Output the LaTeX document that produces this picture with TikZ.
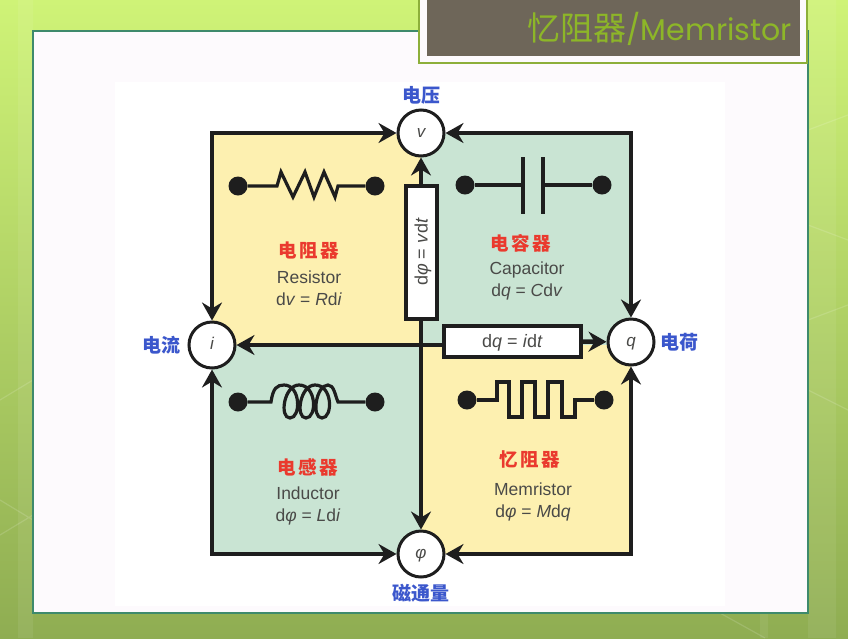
\documentclass[tikz,border=0pt]{standalone}
\usepackage{fontspec}
\setmainfont{Liberation Sans}
\newfontfamily\cjk{Noto Sans CJK SC}
\newfontfamily\cjkwide[LetterSpace=14]{Noto Sans CJK SC}
\newfontfamily\headfont{Poppins}
\usetikzlibrary{positioning,arrows.meta}
\definecolor{leaf}{HTML}{CFF377}
\definecolor{leafM}{HTML}{B4DC63}
\definecolor{leafB}{HTML}{8FAD52}
\definecolor{frame}{HTML}{3E8A6C}
\definecolor{paper}{HTML}{FDFAFD}
\definecolor{banner}{HTML}{6E6659}
\definecolor{bannerT}{HTML}{8DB628}
\definecolor{bannerB}{HTML}{8DAF3A}
\definecolor{butter}{HTML}{FDF0B0}
\definecolor{mint}{HTML}{C9E4D3}
\definecolor{ink}{HTML}{1E1E1E}
\definecolor{txt}{HTML}{4A4A48}
\definecolor{qty}{HTML}{3B57CC}
\definecolor{partred}{HTML}{EA3A2E}

\begin{document}
\begin{tikzpicture}[
    x=1pt, y=-1pt,
    every node/.style={text=txt},
    flow/.style={{Stealth[length=18pt,width=20pt,inset=6pt]}-{Stealth[length=18pt,width=20pt,inset=6pt]}, draw=ink, line width=4.5pt},
    oneway/.style={-{Stealth[length=18pt,width=20pt,inset=6pt]}, draw=ink, line width=4.5pt},
    wire/.style={draw=ink, line width=3.2pt},
    var/.style={circle, draw=ink, fill=white, line width=3pt, minimum size=46pt, inner sep=0pt,
                text height=8pt, text depth=0pt, font=\fontsize{17}{17}\selectfont\itshape},
    eqbox/.style={draw=ink, fill=white, line width=4pt, minimum height=31pt, inner sep=0pt,
                  text height=14pt, text depth=1pt, font=\fontsize{18}{18}\selectfont},
    pin/.style={circle, fill=ink, minimum size=19pt, inner sep=0pt},
    qtylabel/.style={text=qty, inner sep=0pt, font=\fontsize{19}{19}\cjk\bfseries\selectfont},
    partname/.style={text=partred, inner sep=0pt, font=\fontsize{18.5}{18.5}\cjkwide\bfseries\selectfont},
    partinfo/.style={inner sep=0pt, align=center, font=\fontsize{17.5}{22}\selectfont},
  ]

  % the slide behind the figure
  \useasboundingbox (0,0) rectangle (848,638);
  \shade[top color=leaf, middle color=leafM, bottom color=leafB] (0,0) rectangle (848,638);
  \fill[white, opacity=0.07] (18,0) rectangle (33,638) (808,0) rectangle (836,638) (760,613) rectangle (768,638);
  \draw[white, opacity=0.14, line width=1.2pt] (0,400) -- (33,380) (0,535) -- (33,515) (0,500) -- (33,520)
        (808,130) -- (848,115) (808,225) -- (848,240) (808,320) -- (848,305) (808,390) -- (848,410)
        (720,613) -- (765,638);
  \fill[paper, draw=frame, line width=1.2pt] (33,31) rectangle (808,613);
  \fill[white] (115,82) rectangle (725,606);

  % the banner
  \fill[paper, draw=bannerB, line width=1.2pt] (419,-2) rectangle (807,63);
  \fill[banner] (427,-2) rectangle (800,56);
  \node[anchor=east, inner sep=0pt, text=bannerT, font=\fontsize{30}{30}\selectfont] (head) at (792,29)
        {{\fontsize{33}{33}\cjk 忆阻器}{\headfont /Memristor}};

  % the four quadrants
  \fill[butter] (212,134) rectangle (421,345);
  \fill[mint]   (421,134) rectangle (631,345);
  \fill[mint]   (212,345) rectangle (421,554);
  \fill[butter] (421,345) rectangle (631,554);

  % the four variables
  \node[var] (v)   at (421,133) {v};
  \node[var] (i)   at (212,345) {i};
  \node[var] (q)   at (631,342) {q};
  \node[var] (phi) at (421,554) {φ};
  \node[qtylabel, above=4pt of v]   (vname)   {电压};
  \node[qtylabel, left=7pt of i]    (iname)   {电流};
  \node[qtylabel, right=5pt of q]   (qname)   {电荷};
  \node[qtylabel, below=5pt of phi] (phiname) {磁通量};

  % the two integrals
  \node[eqbox, minimum width=133pt, rotate=90] (vbox) at (421,252) {d\textit{φ} = \textit{v}d\textit{t}};
  \node[eqbox, minimum width=137pt]            (hbox) at (512.5,341) {d\textit{q} = \textit{i}d\textit{t}};

  % the outer ring and the arrows in the middle
  \draw[flow] (v) -| (i);
  \draw[flow] (v) -| (q);
  \draw[flow] (phi) -| (i);
  \draw[flow] (phi) -| (q);
  \draw[oneway] (vbox) -- (v);
  \draw[oneway] (vbox) -- (phi);
  \draw[oneway] (hbox.west |- i) -- (i);
  \draw[oneway] (hbox) -- (q);

  % resistor
  \node[pin] (ra) at (238,186) {};
  \node[pin] (rb) at (375,186) {};
  \draw[wire] (ra) -- (277,186) -- (281,172) -- (293,197) -- (305,172) -- (314,197) -- (324,172) -- (335,197) -- (338,186) -- (rb);
  \node[partname] (rname) at (309,251) {电阻器};
  \node[partinfo, below=11pt of rname] (rinfo) {Resistor\\d\textit{v} = \textit{R}d\textit{i}};

  % capacitor
  \node[pin] (ca) at (465,185) {};
  \node[pin] (cb) at (602,185) {};
  \coordinate (cl) at (523,185);
  \coordinate (cr) at (543,185);
  \draw[wire] (ca) -- (cl) (cr) -- (cb);
  \draw[wire] (523,157) -- (523,214) (543,157) -- (543,214);
  \node[partname] (cname) at (521,243) {电容器};
  \node[partinfo, below=9pt of cname, xshift=6pt] (cinfo) {Capacitor\\d\textit{q} = \textit{C}d\textit{v}};

  % inductor
  \node[pin] (la) at (238,402) {};
  \node[pin] (lb) at (375,402) {};
  \draw[wire] (la) -- (271,402) .. controls (273,388) and (277,385) .. (284,385)
        .. controls (301,385) and (301,418) .. (290,418) .. controls (279,418) and (284,385) .. (299,385)
        .. controls (317,385) and (317,418) .. (306,418) .. controls (295,418) and (300,385) .. (315,385)
        .. controls (333,385) and (333,418) .. (322,418) .. controls (311,418) and (316,385) .. (328,385)
        .. controls (334,385) and (335,395) .. (338,402) -- (lb);
  \node[partname] (lname) at (308,467) {电感器};
  \node[partinfo, below=10.5pt of lname] (linfo) {Inductor\\d\textit{φ} = \textit{L}d\textit{i}};

  % memristor
  \node[pin] (ma) at (467,400) {};
  \node[pin] (mb) at (604,400) {};
  \draw[wire] (ma) -- (497,400) |- (509,382) |- (522,417) |- (535,382) |- (548,417) |- (562,382) |- (575,417) |- (mb);
  \node[partname] (mname) at (530,459) {忆阻器};
  \node[partinfo, below=15pt of mname, xshift=3pt] (minfo) {Memristor\\d\textit{φ} = \textit{M}d\textit{q}};
\end{tikzpicture}
\end{document}
